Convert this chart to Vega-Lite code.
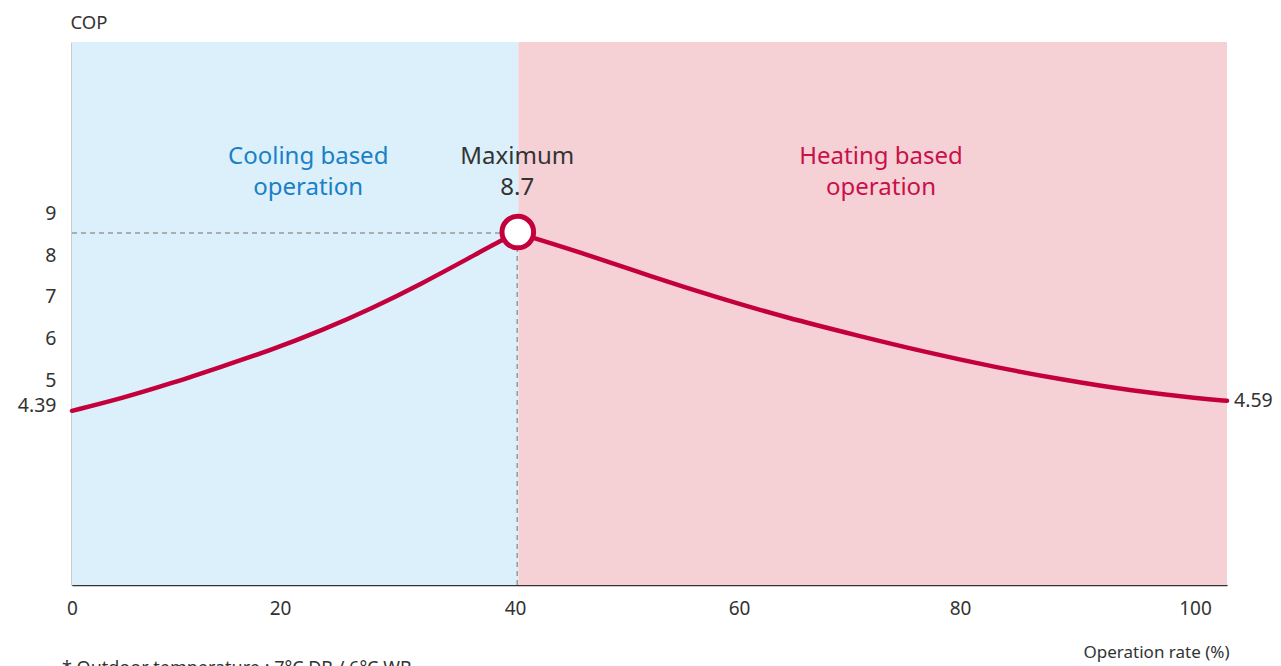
{
  "$schema": "https://vega.github.io/schema/vega-lite/v6.json",
  "width": 1155,
  "height": 543,
  "autosize": {"type": "none"},
  "padding": {"left": 72, "top": 42, "right": 54, "bottom": 81},
  "background": "white",
  "config": {"view": {"stroke": null}, "font": "Noto Sans"},
  "title": {
    "text": "* Outdoor temperature : 7°C DB / 6°C WB",
    "orient": "bottom",
    "anchor": "start",
    "frame": "group",
    "offset": 0,
    "dx": -10,
    "fontSize": 18,
    "fontWeight": "normal",
    "color": "#333333",
    "font": "Noto Sans"
  },
  "datasets": {
    "zones": [
      {"start": 0, "end": 40.3, "ylo": 0.1, "yhi": 13.1, "zone": "cool"},
      {"start": 40.3, "end": 102.7, "ylo": 0.1, "yhi": 13.1, "zone": "heat"}
    ],
    "guides": [
      {"xa": 0, "xb": 40.2, "ya": 8.53, "yb": 8.53},
      {"xa": 40.2, "xb": 40.2, "ya": 0.1, "yb": 8.53}
    ],
    "curve": [
      {"rate": 0, "cop": 4.27, "seg": "a"},
      {"rate": 4.8, "cop": 4.57, "seg": "a"},
      {"rate": 9.6, "cop": 4.93, "seg": "a"},
      {"rate": 14.4, "cop": 5.33, "seg": "a"},
      {"rate": 19.2, "cop": 5.73, "seg": "a"},
      {"rate": 23.6, "cop": 6.2, "seg": "a"},
      {"rate": 27.8, "cop": 6.72, "seg": "a"},
      {"rate": 32.1, "cop": 7.32, "seg": "a"},
      {"rate": 36.3, "cop": 7.96, "seg": "a"},
      {"rate": 38.9, "cop": 8.36, "seg": "a"},
      {"rate": 40.2, "cop": 8.53, "seg": "a"},
      {"rate": 40.2, "cop": 8.53, "seg": "b"},
      {"rate": 45.8, "cop": 8.07, "seg": "b"},
      {"rate": 52.0, "cop": 7.5, "seg": "b"},
      {"rate": 58.1, "cop": 6.98, "seg": "b"},
      {"rate": 64.3, "cop": 6.5, "seg": "b"},
      {"rate": 70.6, "cop": 6.08, "seg": "b"},
      {"rate": 76.8, "cop": 5.68, "seg": "b"},
      {"rate": 82.9, "cop": 5.32, "seg": "b"},
      {"rate": 88.8, "cop": 5.01, "seg": "b"},
      {"rate": 94.6, "cop": 4.75, "seg": "b"},
      {"rate": 100.5, "cop": 4.56, "seg": "b"},
      {"rate": 102.7, "cop": 4.51, "seg": "b"}
    ],
    "peak": [{"rate": 40.25, "cop": 8.55}],
    "labels": [
      {"rate": 22.4, "cop": 10.35, "label": "Cooling based\noperation", "kind": "cool"},
      {"rate": 40.2, "cop": 10.35, "label": "Maximum\n8.7", "kind": "max"},
      {"rate": 72.85, "cop": 10.35, "label": "Heating based\noperation", "kind": "heat"}
    ],
    "endlabel": [{"rate": 102.7, "cop": 4.51, "label": "4.59"}]
  },
  "layer": [
    {
      "data": {"name": "zones"},
      "mark": {"type": "rect"},
      "encoding": {
        "x": {
          "field": "start",
          "type": "quantitative",
          "scale": {"domain": [0, 20, 40, 60, 80, 100, 102.7], "range": [0, 208, 443, 667, 888, 1123, 1155], "nice": false, "zero": false},
          "axis": {
            "values": [0, 20, 40, 60, 80, 100],
            "format": "d",
            "ticks": false,
            "grid": false,
            "labelFlush": false,
            "labelOverlap": false,
            "domainColor": "#333333",
            "domainWidth": 1.5,
            "labelFontSize": 19,
            "labelColor": "#333333",
            "labelPadding": 14,
            "labelFont": "Noto Sans",
            "title": "Operation rate (%)",
            "titleFontSize": 17,
            "titleFontWeight": "normal",
            "titleColor": "#333333",
            "titleFont": "Noto Sans",
            "titleAlign": "right",
            "titleAnchor": null,
            "titleX": 1157,
            "titleY": 67,
            "titleBaseline": "middle"
          }
        },
        "x2": {"field": "end"},
        "y": {
          "field": "ylo",
          "type": "quantitative",
          "scale": {"domain": [0.1, 13.1], "nice": false, "zero": false},
          "axis": {
            "values": [4.39, 5, 6, 7, 8, 9],
            "format": ".3~",
            "ticks": false,
            "grid": false,
            "labelFlush": false,
            "domainColor": "#333333",
            "domainWidth": 1.5,
            "labelFontSize": 19.5,
            "labelColor": "#333333",
            "labelPadding": 16,
            "labelFont": "Noto Sans",
            "title": "COP",
            "titleAngle": 0,
            "titleAlign": "left",
            "titleBaseline": "middle",
            "titleX": -2,
            "titleY": -20,
            "titleFontSize": 18.5,
            "titleFontWeight": "normal",
            "titleColor": "#333333",
            "titleFont": "Noto Sans"
          }
        },
        "y2": {"field": "yhi"},
        "color": {
          "field": "zone",
          "type": "nominal",
          "scale": {"domain": ["cool", "heat"], "range": ["#dbf0fb", "#f5d1d6"]},
          "legend": null
        }
      }
    },
    {
      "data": {"name": "guides"},
      "mark": {"type": "rule", "color": "#999999", "strokeWidth": 1.5, "strokeDash": [5, 4]},
      "encoding": {
        "x": {"field": "xa", "type": "quantitative"},
        "x2": {"field": "xb"},
        "y": {"field": "ya", "type": "quantitative"},
        "y2": {"field": "yb"}
      }
    },
    {
      "data": {"name": "curve"},
      "mark": {"type": "line", "color": "#c4003c", "strokeWidth": 4.5, "interpolate": "basis", "strokeCap": "round"},
      "encoding": {
        "x": {"field": "rate", "type": "quantitative"},
        "y": {"field": "cop", "type": "quantitative"},
        "detail": {"field": "seg", "type": "nominal"}
      }
    },
    {
      "data": {"name": "peak"},
      "mark": {"type": "point", "shape": "circle", "filled": true, "fill": "white", "stroke": "#c4003c", "strokeWidth": 5, "size": 1000, "opacity": 1},
      "encoding": {
        "x": {"field": "rate", "type": "quantitative"},
        "y": {"field": "cop", "type": "quantitative"}
      }
    },
    {
      "data": {"name": "labels"},
      "mark": {"type": "text", "fontSize": 24, "lineHeight": 31, "align": "center", "baseline": "middle", "lineBreak": "\n", "font": "Noto Sans"},
      "encoding": {
        "x": {"field": "rate", "type": "quantitative"},
        "y": {"field": "cop", "type": "quantitative"},
        "text": {"field": "label"},
        "color": {
          "field": "kind",
          "type": "nominal",
          "scale": {"domain": ["cool", "max", "heat"], "range": ["#1a80c6", "#333333", "#c8104a"]},
          "legend": null
        }
      }
    },
    {
      "data": {"name": "endlabel"},
      "mark": {"type": "text", "fontSize": 19.5, "align": "left", "baseline": "middle", "dx": 7, "color": "#333333", "font": "Noto Sans"},
      "encoding": {
        "x": {"field": "rate", "type": "quantitative"},
        "y": {"field": "cop", "type": "quantitative"},
        "text": {"field": "label"}
      }
    }
  ],
  "resolve": {"scale": {"color": "independent"}}
}
